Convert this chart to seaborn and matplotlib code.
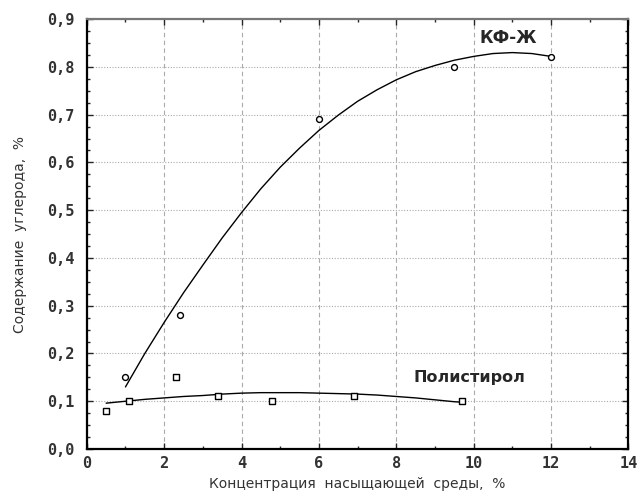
import numpy as np
import pandas as pd
import matplotlib
matplotlib.use("Agg")
import matplotlib.pyplot as plt
import seaborn as sns
from matplotlib.ticker import MultipleLocator, FuncFormatter

# измеренные точки
kf_x = [1.0, 2.4, 6.0, 9.5, 12.0]
kf_y = [0.15, 0.28, 0.69, 0.80, 0.82]
ps_x = [0.5, 1.1, 2.3, 3.4, 4.8, 6.9, 9.7]
ps_y = [0.08, 0.10, 0.15, 0.11, 0.10, 0.11, 0.10]

# аппроксимирующие кривые
kf_line_x = [1, 1.5, 2, 2.5, 3, 3.5, 4, 4.5, 5, 5.5, 6, 6.5, 7, 7.5, 8, 8.5,
             9, 9.5, 10, 10.5, 11, 11.5, 12]
kf_line_y = [0.13, 0.20, 0.265, 0.327, 0.385, 0.442, 0.495, 0.545, 0.59, 0.63,
             0.667, 0.699, 0.728, 0.752, 0.773, 0.79, 0.803, 0.814, 0.822,
             0.828, 0.83, 0.828, 0.822]
ps_line_x = [0.5, 1, 1.5, 2, 2.5, 3, 3.5, 4, 4.5, 5, 5.5, 6, 6.5, 7, 7.5, 8,
             8.5, 9, 9.5, 9.7]
ps_line_y = [0.096, 0.10, 0.104, 0.107, 0.11, 0.112, 0.115, 0.117, 0.118,
             0.118, 0.118, 0.117, 0.116, 0.115, 0.113, 0.11, 0.107, 0.103,
             0.099, 0.098]

sns.set_style("ticks")
plt.rcParams['font.family'] = ['DejaVu Sans', 'DejaVu Sans Mono']

fig = plt.figure(figsize=(6.38, 4.91), dpi=100)
ax = fig.add_axes([0.136, 0.0855, 0.849, 0.8755])

sns.lineplot(x=kf_line_x, y=kf_line_y, ax=ax, color='black', lw=1.0,
             sort=False, estimator=None)
sns.lineplot(x=ps_line_x, y=ps_line_y, ax=ax, color='black', lw=1.0,
             sort=False, estimator=None)
sns.scatterplot(x=kf_x, y=kf_y, ax=ax, marker='o', s=18,
                facecolor='white', edgecolor='black', linewidth=1.0, zorder=3)
sns.scatterplot(x=ps_x, y=ps_y, ax=ax, marker='s', s=18,
                facecolor='white', edgecolor='black', linewidth=1.0, zorder=3)

ax.set_xlim(0, 14)
ax.set_ylim(0, 0.9)
ax.xaxis.set_major_locator(MultipleLocator(2))
ax.xaxis.set_minor_locator(MultipleLocator(1))
ax.yaxis.set_major_locator(MultipleLocator(0.1))
ax.yaxis.set_minor_locator(MultipleLocator(0.025))
ax.yaxis.set_major_formatter(FuncFormatter(lambda v, p: f"{v:.1f}".replace('.', ',')))

ax.tick_params(which='both', direction='in', top=True, right=True, width=1.0)
ax.tick_params(which='major', length=4)
ax.tick_params(which='minor', length=2.5)
ax.tick_params(axis='y', pad=9)
ax.tick_params(axis='x', pad=5)
for lbl in ax.get_xticklabels() + ax.get_yticklabels():
    lbl.set_family('DejaVu Sans Mono')
    lbl.set_fontweight('bold')
    lbl.set_fontsize(11)
    lbl.set_color('#333333')

ax.grid(axis='x', which='major', color='#aaaaaa', linestyle=(0, (4, 3)), lw=0.8)
ax.grid(axis='y', which='major', color='#aaaaaa', linestyle=(0, (1, 1.5)), lw=0.8)

for side in ['left', 'bottom', 'right']:
    ax.spines[side].set_linewidth(1.6)
    ax.spines[side].set_color('black')
ax.spines['top'].set_linewidth(1.6)
ax.spines['top'].set_color('#777777')

ax.set_xlabel('Концентрация  насыщающей  среды,  %', fontsize=10, labelpad=4,
              color='#333333')
ax.set_ylabel('Содержание  углерода,  %', fontsize=10, labelpad=14,
              color='#333333')

ax.text(10.9, 0.86, 'КФ-Ж', fontsize=12, fontweight='bold',
        ha='center', va='center')
ax.text(9.9, 0.149, 'Полистирол', fontsize=11.5, fontweight='bold',
        ha='center', va='center')

fig.savefig('out.png', dpi=100)
